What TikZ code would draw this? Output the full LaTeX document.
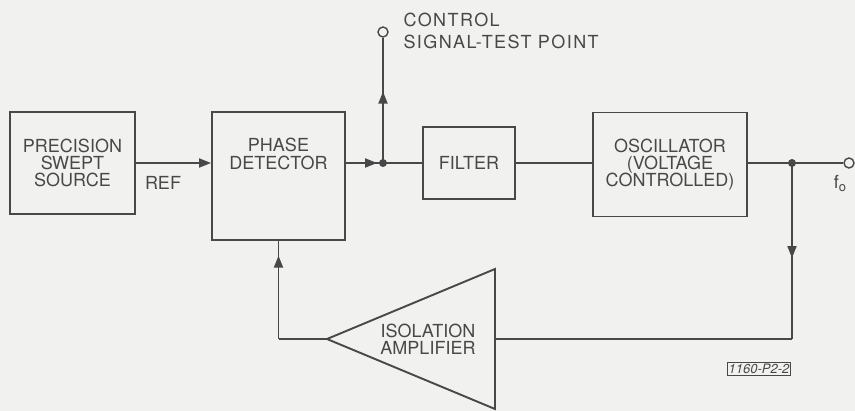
\documentclass[tikz,border=0pt]{standalone}
\usepackage{fontspec}
\setmainfont{TeX Gyre Heros}
\newfontfamily\widefont[LetterSpace=8]{TeX Gyre Heros}
\usetikzlibrary{arrows.meta,decorations.markings}
\definecolor{ink}{HTML}{484848}
\definecolor{paper}{HTML}{F1F1EF}
\begin{document}
\begin{tikzpicture}[x=1pt, y=-1pt, >={Triangle[length=12pt,width=9pt]},
    every node/.style={text=ink, font=\fontsize{18}{20}\selectfont},
    block/.style={draw=ink, line width=1.9pt, inner sep=0pt, align=center},
    wire/.style={draw=ink, line width=1.9pt},
    arrowat/.style={postaction={decorate}, decoration={markings,
        mark=at position #1 with {\arrow{>}}}},
    dot/.style={circle, fill=ink, inner sep=0pt, minimum size=8pt},
    tpoint/.style={circle, draw=ink, fill=paper, line width=1.4pt, inner sep=0pt, minimum size=10pt}]
    \fill[paper] (0,0) rectangle (855,411);

    % Forward path
    \node[block, minimum width=125pt, minimum height=102pt] (src) at (72.5,163) {PRECISION\\[-3pt]SWEPT\\[-3pt]SOURCE};
    \node[block, minimum width=133pt, minimum height=128pt] (pd) at (278.5,176) {};
    \node[align=center] (pdtext) at (278.5,154) {PHASE\\[-2pt]DETECTOR};
    \node[block, minimum width=92pt, minimum height=72pt] (filt) at (469,163) {FILTER};
    \node[block, minimum width=154pt, minimum height=104pt] (osc) at (670,164.5) {OSCILLATOR\\[-3pt](VOLTAGE\\[-3pt]CONTROLLED)};
    \node (ref) at (163,183) {REF};

    \draw[wire, ->] (src.east |- 0,163) -- (pd.west |- 0,163);
    \coordinate (j1) at (383,163);
    \draw[wire, arrowat=0.84] (pd.east |- j1) -- (j1);
    \draw[wire] (j1) -- (filt.west);
    \draw[wire] (filt.east) -- (osc.west |- filt.east);

    % Test point
    \node[tpoint] (tp) at (383,32) {};
    \draw[wire, arrowat=0.57] (j1) -- (tp);
    \node[anchor=west, align=left, font=\widefont\fontsize{18}{22}\selectfont] (tplabel) at (400,31) {CONTROL\\SIGNAL-TEST POINT};
    \node[dot] at (j1) {};

    % Output
    \coordinate (j2) at (792,163);
    \node[tpoint] (fo) at (849,163) {};
    \draw[wire] (osc.east |- j2) -- (fo);
    \node[dot] at (j2) {};
    \node (folabel) at (840,184) {f\raisebox{-3pt}{\fontsize{13}{13}\selectfont o}};

    % Feedback through isolation amplifier
    \coordinate (ampin) at (495,339);
    \coordinate (ampout) at (327,339);
    \draw[wire, line join=miter] (495,269) -- (495,409) -- (ampout) -- cycle;
    \node[align=center] (amp) at (428,339) {ISOLATION\\[-3pt]AMPLIFIER};
    \coordinate (c2) at (792,339);
    \coordinate (c1) at (278.5,339);
    \draw[wire, arrowat=0.54] (j2) -- (c2);
    \draw[wire] (c2) -- (ampin);
    \draw[wire] (ampout) -- (c1);
    \draw[wire, arrowat=0.85] (c1) -- (pd.south);

    % Figure number
    \node[draw=ink, line width=1pt, inner sep=1.5pt, font=\itshape\fontsize{13}{13}\selectfont] (fig) at (759,369) {1160-P2-2};
\end{tikzpicture}
\end{document}
